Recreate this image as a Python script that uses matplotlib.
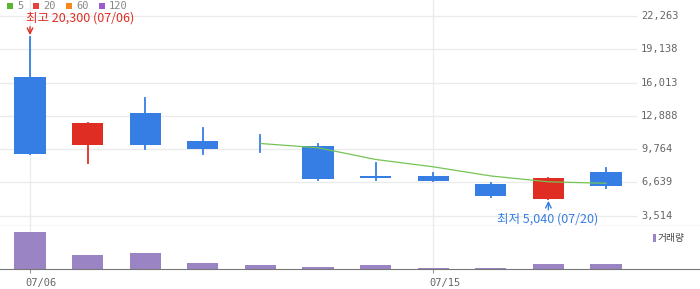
import matplotlib.pyplot as plt
from matplotlib.patches import Rectangle
from matplotlib.transforms import blended_transform_factory

# ---- data ----
opens  = [16550, 10190, 13170, 10530,  9860, 10070, 7250, 7250, 6520, 5120, 7620]
highs  = [20300, 12230, 14580, 11760, 11100, 10280, 8470, 7530, 6590, 7060, 8030]
lows   = [ 9340,  8500,  9810,  9340,  9530,  6870, 6870, 6800, 5300, 5040, 6150]
closes = [ 9340, 12230, 10190,  9810,  9840,  6960, 7060, 6800, 5370, 7060, 6330]
ma5_x  = [4, 5, 6, 7, 8, 9, 10]
ma5    = [10300, 9900, 8800, 8110, 7250, 6700, 6560]
volume = [3700000, 1440000, 1640000, 620000, 410000, 200000, 410000,
          100000, 100000, 510000, 510000]
ytick_vals = [22263, 19138, 16013, 12888, 9764, 6639, 3514]
xtick_pos = [0, 7]
xtick_labels = ['07/06', '07/15']
legend_names = ['5', '20', '60', '120']
legend_colors = ['#5cb531', '#e8423f', '#f4891e', '#9a5ccf']

UP = '#e02d24'
DOWN = '#377ee4'
GRID = '#ebebeb'
W = 0.54
KR = ['Noto Sans CJK KR', 'DejaVu Sans']

fig = plt.figure(figsize=(7, 2.89), dpi=100)
H = 289
ax = fig.add_axes([0, (H - 226) / H, 1, 226 / H])
axv = fig.add_axes([0, (H - 269) / H, 1, 43 / H])

xmin, xmax = -30 / 57.6, 670 / 57.6
grid_end = (636 - 30) / 57.6

# price panel
ax.set_xlim(xmin, xmax)
ax.set_ylim(2545, 23789)
trans_lbl = blended_transform_factory(ax.transAxes, ax.transData)
for v in ytick_vals:
    ax.plot([xmin, grid_end], [v, v], color=GRID, lw=1, zorder=0)
    ax.text(641 / 700, v, f'{v:,}', transform=trans_lbl, fontsize=7.5,
            family='DejaVu Sans Mono', color='#666666', va='center', ha='left')
for xp in xtick_pos:
    ax.axvline(xp, color=GRID, lw=1, zorder=0)

for i, (o, h, l, c) in enumerate(zip(opens, highs, lows, closes)):
    col = UP if c >= o else DOWN
    ax.plot([i, i], [l, h], color=col, lw=1.3, zorder=2)
    bottom = min(o, c)
    height = max(abs(c - o), 60)
    ax.add_patch(Rectangle((i - W / 2, bottom), W, height, color=col, lw=0, zorder=3))

ax.plot(ma5_x, ma5, color='#74c455', lw=0.9, zorder=4)

# high / low annotations
i_hi = highs.index(max(highs))
i_lo = lows.index(min(lows))
ax.annotate('', xy=(i_hi, max(highs)), xytext=(0, 7.5), textcoords='offset points',
            arrowprops=dict(arrowstyle='->', color=UP, lw=1, shrinkA=0, shrinkB=1.5))
ax.annotate(f'최고 {max(highs):,} (07/06)', xy=(i_hi, max(highs)), xytext=(-3, 13.5),
            textcoords='offset points', color=UP, fontsize=9,
            family=KR, ha='left', va='center')
ax.annotate('', xy=(i_lo, min(lows)), xytext=(0, -7.5), textcoords='offset points',
            arrowprops=dict(arrowstyle='->', color=DOWN, lw=1, shrinkA=0, shrinkB=1))
ax.annotate(f'최저 {min(lows):,} (07/20)', xy=(i_lo, min(lows)), xytext=(-37, -14),
            textcoords='offset points', color=DOWN, fontsize=9,
            family=KR, ha='left', va='center')

for s in ['top', 'left', 'right']:
    ax.spines[s].set_visible(False)
ax.spines['bottom'].set_color('#777777')
ax.set_xticks([])
ax.set_yticks([])

# legend at top
for k, (name, col) in enumerate(zip(legend_names, legend_colors)):
    x0 = [7, 33, 66, 99][k]
    fig.patches.append(Rectangle((x0 / 700, 1 - 9 / H), 6 / 700, 6 / H,
                                 transform=fig.transFigure, color=col, lw=0))
    fig.text((x0 + 10) / 700, 1 - 6 / H, name, fontsize=7.5, family='DejaVu Sans Mono',
             color='#888888', va='center', ha='left')

# volume panel
axv.set_xlim(xmin, xmax)
axv.set_ylim(0, 4300000)
for xp in xtick_pos:
    axv.axvline(xp, color=GRID, lw=1, zorder=0)
axv.bar(range(len(volume)), volume, width=W, color='#9b84c4', zorder=2)
for s in ['top', 'left', 'right']:
    axv.spines[s].set_visible(False)
axv.spines['bottom'].set_color('#777777')
axv.set_yticks([])
axv.set_xticks(xtick_pos)
axv.set_xticklabels([])
axv.tick_params(axis='x', length=3, color='#999999')
for xp, lab in zip(xtick_pos, xtick_labels):
    axv.annotate(lab, xy=(xp, 0), xytext=(-3, -10), textcoords='offset points',
                 fontsize=7.5, family='DejaVu Sans Mono', color='#666666',
                 ha='left', va='center')
fig.patches.append(Rectangle((653 / 700, 1 - 242 / H), 3 / 700, 8 / H,
                             transform=fig.transFigure, color='#9b84c4', lw=0))
fig.text(658 / 700, 1 - 238 / H, '거래량', fontsize=7, family=KR,
         color='#444444', va='center', ha='left')

fig.savefig('out.png', dpi=100)
